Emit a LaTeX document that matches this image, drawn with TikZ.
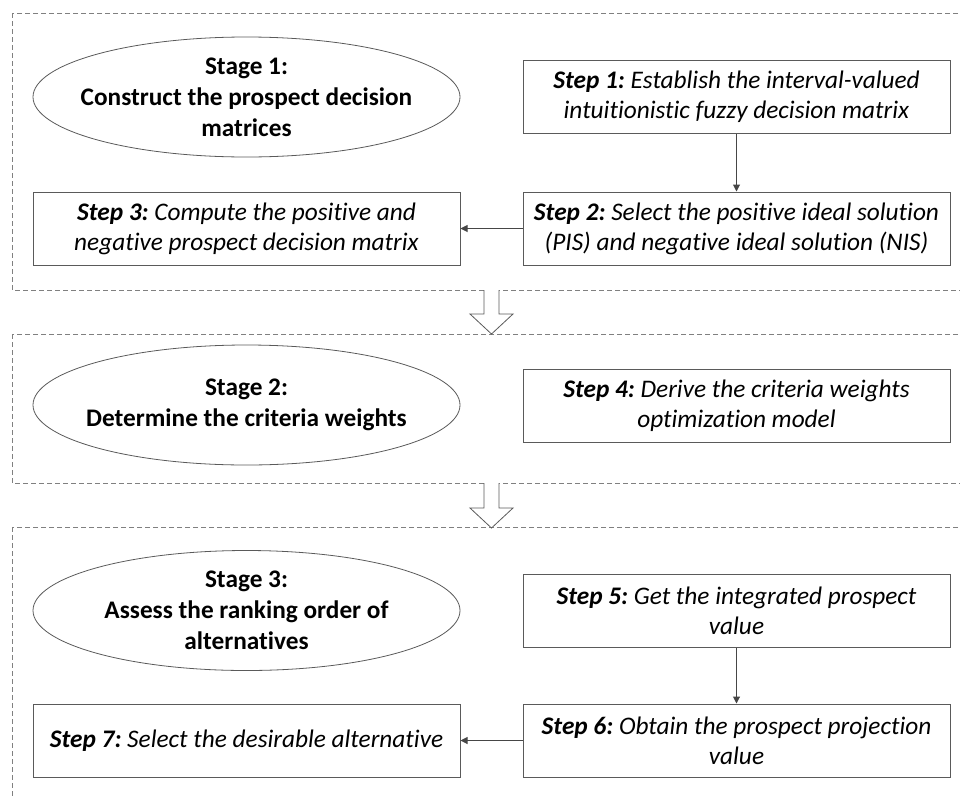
\documentclass[tikz,border=0pt]{standalone}
\usepackage{fontspec}
\setmainfont{Carlito}[Ligatures=NoCommon]
\usetikzlibrary{shapes.geometric,arrows.meta}
\definecolor{boxline}{RGB}{90,90,90}
\definecolor{dashgray}{RGB}{128,128,128}
\definecolor{arrowgray}{RGB}{70,70,70}
\frenchspacing
\begin{document}
\begin{tikzpicture}[x=1pt,y=-1pt,
  stepbox/.style={draw=boxline,line width=1pt,minimum width=427pt,minimum height=73pt,align=center,inner sep=0pt,font=\fontsize{25.3}{30}\selectfont},
  stagebox/.style={ellipse,draw=boxline,line width=0.8pt,minimum width=427pt,minimum height=120pt,inner sep=0pt},
  stagetext/.style={align=center,inner sep=0pt,font=\fontsize{25.3}{31}\selectfont\bfseries},
  panel/.style={draw=dashgray,line width=1pt,dash pattern=on 5pt off 3pt},
  conn/.style={draw=arrowgray,line width=1pt,-{Triangle[length=7pt,width=7pt]}},
  blockarrow/.style={draw=boxline,line width=0.8pt}]
\useasboundingbox (0,0) rectangle (960,798);
\clip (0,0) rectangle (960,798);

% panels
\draw[panel] (12,13) rectangle (980,290);
\draw[panel] (12,334) rectangle (980,483);
\draw[panel] (12,527) rectangle (980,820);

% stage 1
\node[stagebox] (e1) at (246.5,97) {};
\node[stagetext] (e1t) at (e1.center) {Stage 1:\\Construct the prospect decision\\matrices};
\node[stepbox] (st1) at (736.5,97) {\textbf{\textit{Step 1:}} \textit{Establish the interval-valued}\\\textit{intuitionistic fuzzy decision matrix}};
\node[stepbox] (st2) at (736.5,228.5) {\textbf{\textit{Step 2:}} \textit{Select the positive ideal solution}\\\textit{(PIS) and negative ideal solution (NIS)}};
\node[stepbox] (st3) at (246.5,228.5) {\textbf{\textit{Step 3:}} \textit{Compute the positive and}\\\textit{negative prospect decision matrix}};
\draw[conn] (st1) -- (st2);
\draw[conn] (st2) -- (st3);

% block arrow 1
\fill[white] (484,290) -- (484,314) -- (470,314) -- (491.5,334) -- (513,314) -- (499,314) -- (499,290) -- cycle;
\draw[blockarrow] (484,290) -- (484,314) -- (470,314) -- (491.5,334) -- (513,314) -- (499,314) -- (499,290);

% stage 2
\node[stagebox] (e2) at (246.5,405) {};
\node[stagetext] (e2t) at (e2.center) {Stage 2:\\Determine the criteria weights};
\node[stepbox] (st4) at (736.5,405.5) {\textbf{\textit{Step 4:}} \textit{Derive the criteria weights}\\\textit{optimization model}};

% block arrow 2
\fill[white] (484,483) -- (484,508) -- (470,508) -- (491.5,528) -- (513,508) -- (499,508) -- (499,483) -- cycle;
\draw[blockarrow] (484,483) -- (484,508) -- (470,508) -- (491.5,528) -- (513,508) -- (499,508) -- (499,483);

% stage 3
\node[stagebox] (e3) at (246.5,610.5) {};
\node[stagetext] (e3t) at (e3.center) {Stage 3:\\Assess the ranking order of\\alternatives};
\node[stepbox] (st5) at (736.5,610.5) {\textbf{\textit{Step 5:}} \textit{Get the integrated prospect}\\\textit{value}};
\node[stepbox] (st6) at (736.5,740.5) {\textbf{\textit{Step 6:}} \textit{Obtain the prospect projection}\\\textit{value}};
\node[stepbox] (st7) at (246.5,740.5) {\textbf{\textit{Step 7:}} \textit{Select the desirable alternative}};
\draw[conn] (st5) -- (st6);
\draw[conn] (st6) -- (st7);
\end{tikzpicture}
\end{document}
